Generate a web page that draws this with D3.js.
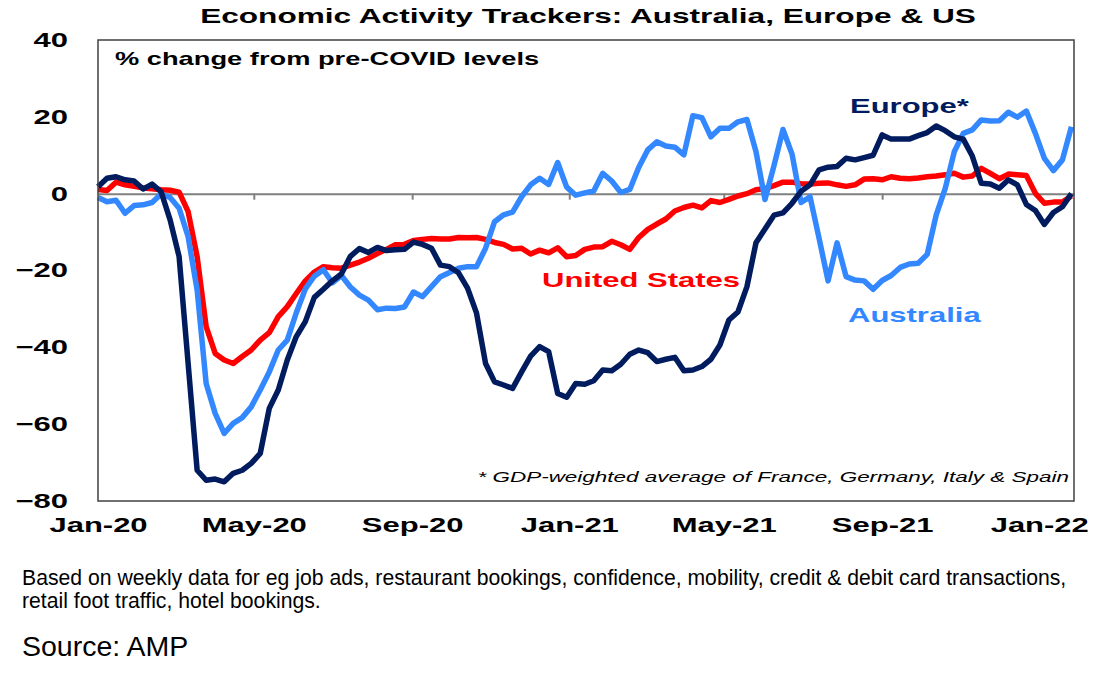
<!DOCTYPE html>
<html>
<head>
<meta charset="utf-8">
<script src="https://cdn.jsdelivr.net/npm/d3@7"></script>
<style>
  body { margin: 0; background: #fff; }
  svg { display: block; font-family: Arial, "Liberation Sans", sans-serif; }
</style>
</head>
<body>
<svg id="chart" width="1105" height="678"></svg>
<script>
// weekly readings, first week 1 Jan 2020
const START = new Date(2020, 0, 1);
const END = new Date(2022, 0, 28);
const xTickDates = ["2020-01-01", "2020-05-01", "2020-09-01", "2021-01-01", "2021-05-01", "2021-09-01", "2022-01-01"];
const yTicks = [40, 20, 0, -20, -40, -60, -80];

const usValues = [
  1.1, 0.8, 3.0, 2.3, 1.9, 1.5, 1.3, 1.0, 0.9, 0.4,
  -4.7, -16.4, -34.6, -41.6, -43.3, -44.2, -42.4, -40.7, -38.1, -36.2,
  -32.0, -29.4, -26.0, -22.7, -20.4, -19.0, -19.3, -19.4, -18.6, -17.8,
  -16.8, -15.6, -14.5, -13.3, -13.2, -12.2, -11.9, -11.7, -11.8, -11.8,
  -11.4, -11.5, -11.4, -11.9, -12.7, -13.2, -14.4, -14.2, -15.7, -14.7,
  -15.4, -14.1, -16.4, -16.1, -14.5, -13.9, -13.8, -12.4, -13.3, -14.5,
  -11.4, -9.3, -7.9, -6.6, -4.5, -3.6, -3.0, -3.7, -1.8, -2.3,
  -1.5, -0.6, 0.0, 1.0, 1.3, 2.1, 3.0, 3.0, 2.6, 2.5,
  2.7, 2.8, 2.3, 1.9, 2.3, 3.8, 3.9, 3.6, 4.4, 4.0,
  3.9, 4.1, 4.4, 4.6, 4.9, 5.3, 4.3, 4.6, 6.6, 5.3,
  3.9, 5.1, 4.9, 4.7, 0.1, -2.5, -2.2, -2.2, -0.6
];

const australiaValues = [
  -1.0, -2.1, -1.7, -5.1, -3.1, -2.9, -2.3, -0.1, -1.0, -3.8,
  -11.2, -25.1, -49.4, -57.2, -62.4, -59.8, -58.3, -55.5, -51.1, -46.4,
  -40.7, -38.1, -31.0, -24.8, -21.5, -19.8, -23.2, -21.3, -24.3, -26.4,
  -27.7, -30.2, -29.8, -29.9, -29.5, -25.6, -26.8, -24.2, -21.6, -20.5,
  -19.4, -19.0, -19.0, -14.2, -7.3, -5.5, -4.8, -0.8, 2.3, 4.0,
  2.4, 8.1, 1.7, -0.4, 0.2, 0.7, 5.3, 3.3, 0.3, 1.1,
  6.9, 11.4, 13.5, 12.4, 12.1, 10.1, 20.3, 19.8, 14.8, 17.0,
  17.0, 18.7, 19.3, 11.0, -1.5, 7.3, 16.7, 10.3, -2.3, -0.8,
  -11.6, -22.7, -12.8, -21.6, -22.5, -22.7, -24.9, -22.6, -21.3, -19.2,
  -18.3, -18.1, -15.8, -5.5, 1.4, 10.9, 15.7, 16.6, 19.2, 18.9,
  19.0, 21.2, 19.9, 21.5, 15.7, 9.2, 6.0, 8.8, 17.4
];

const europeValues = [
  1.8, 4.0, 4.4, 3.6, 3.3, 1.2, 2.5, 0.5, -6.8, -16.4,
  -44.2, -72.0, -74.6, -74.3, -75.0, -72.8, -72.0, -70.2, -67.6, -55.9,
  -51.1, -43.3, -37.2, -33.3, -27.0, -24.9, -22.7, -20.9, -16.3, -14.3,
  -15.3, -14.0, -14.8, -14.6, -14.5, -12.6, -13.2, -14.2, -18.6, -19.0,
  -20.6, -24.6, -31.1, -44.2, -49.0, -49.8, -50.7, -46.4, -42.3, -39.8,
  -41.1, -52.0, -53.0, -49.4, -49.6, -48.7, -45.9, -46.1, -44.4, -41.8,
  -40.7, -41.4, -43.7, -43.1, -42.6, -46.1, -45.9, -45.0, -43.1, -39.4,
  -32.9, -30.8, -24.2, -12.8, -9.2, -5.6, -5.0, -2.5, 0.6, 2.3,
  6.2, 6.9, 7.1, 9.2, 8.8, 9.4, 10.0, 15.3, 14.2, 14.2,
  14.2, 15.1, 15.9, 17.6, 16.4, 14.8, 14.2, 9.8, 2.7, 2.5,
  1.4, 3.6, 2.3, -2.8, -4.4, -8.0, -4.9, -3.4, 0.0
];

const COLORS = { us: "#ff0000", australia: "#3388ff", europe: "#001b5e" };
// chart text in the source is stretched sideways
const SX = 1.55;

const svg = d3.select("#chart");
const plot = { left: 98, right: 1074, top: 40, bottom: 501 };

const x = d3.scaleTime().domain([START, END]).range([plot.left, plot.right]);
const y = d3.scaleLinear().domain([-80, 40]).range([plot.bottom, plot.top]);
const tickDates = xTickDates.map(d3.timeParse("%Y-%m-%d"));

function addText(px, py, str, opts) {
  const g = svg.append("g").attr("transform", `translate(${px},${py}) scale(${opts.sx || 1},1)`);
  return g.append("text")
    .attr("text-anchor", opts.anchor || "start")
    .style("font-size", opts.size + "px")
    .style("font-weight", opts.weight || "normal")
    .style("font-style", opts.style || "normal")
    .style("fill", opts.fill || "#000")
    .text(str);
}

// zero line with small month ticks
const zeroAxis = svg.append("g")
  .attr("transform", `translate(0,${y(0)})`)
  .call(d3.axisBottom(x).tickValues(tickDates.slice(1, -1)).tickSize(6).tickSizeOuter(0).tickFormat(""));
zeroAxis.selectAll("path, line").attr("stroke", "#808080").attr("stroke-width", 2);

// month labels under the box
const xLabels = svg.append("g")
  .attr("transform", `translate(0,${plot.bottom})`)
  .call(d3.axisBottom(x).tickValues(tickDates).tickSize(0).tickPadding(17).tickFormat(d3.timeFormat("%b-%y")));
xLabels.select(".domain").remove();
xLabels.selectAll("text")
  .attr("transform", `scale(${SX},1)`)
  .style("font-size", "20px")
  .style("font-weight", "bold")
  .style("font-family", "Arial, 'Liberation Sans', sans-serif")
  .attr("fill", "#000");

const yLabels = svg.append("g")
  .attr("transform", `translate(${plot.left},0)`)
  .call(d3.axisLeft(y).tickValues(yTicks).tickSize(0).tickPadding(30));
yLabels.select(".domain").remove();
yLabels.selectAll("text")
  .attr("x", -30 / SX)
  .attr("transform", `scale(${SX},1)`)
  .style("font-size", "20px")
  .style("font-weight", "bold")
  .style("font-family", "Arial, 'Liberation Sans', sans-serif")
  .attr("fill", "#000");

const line = d3.line()
  .x((d, i) => x(d3.timeDay.offset(START, 7 * i)))
  .y(d => y(d));

[[usValues, COLORS.us], [australiaValues, COLORS.australia], [europeValues, COLORS.europe]]
  .forEach(([values, color]) => {
    svg.append("path")
      .datum(values)
      .attr("d", line)
      .attr("fill", "none")
      .attr("stroke", color)
      .attr("stroke-width", 5.5)
      .attr("stroke-linejoin", "round");
  });

svg.append("rect")
  .attr("x", plot.left).attr("y", plot.top)
  .attr("width", plot.right - plot.left).attr("height", plot.bottom - plot.top)
  .attr("fill", "none").attr("stroke", "#404040").attr("stroke-width", 1.5);

addText(588, 23, "Economic Activity Trackers: Australia, Europe & US", { size: 20.4, weight: "bold", anchor: "middle", sx: SX });
addText(115, 65, "% change from pre-COVID levels", { size: 17.6, weight: "bold", sx: SX });
addText(542, 287, "United States", { size: 20, weight: "bold", fill: COLORS.us, sx: SX });
addText(848, 322, "Australia", { size: 20, weight: "bold", fill: COLORS.australia, sx: SX });
addText(850, 113, "Europe*", { size: 20, weight: "bold", fill: COLORS.europe, sx: SX });
addText(1069, 482, "* GDP-weighted average of France, Germany, Italy & Spain", { size: 14.5, style: "italic", anchor: "end", sx: SX });

addText(22, 585, "Based on weekly data for eg job ads, restaurant bookings, confidence, mobility, credit & debit card transactions,", { size: 21.2 });
addText(22, 608, "retail foot traffic, hotel bookings.", { size: 21.2 });
addText(22, 656, "Source: AMP", { size: 28.5 });
</script>
</body>
</html>
